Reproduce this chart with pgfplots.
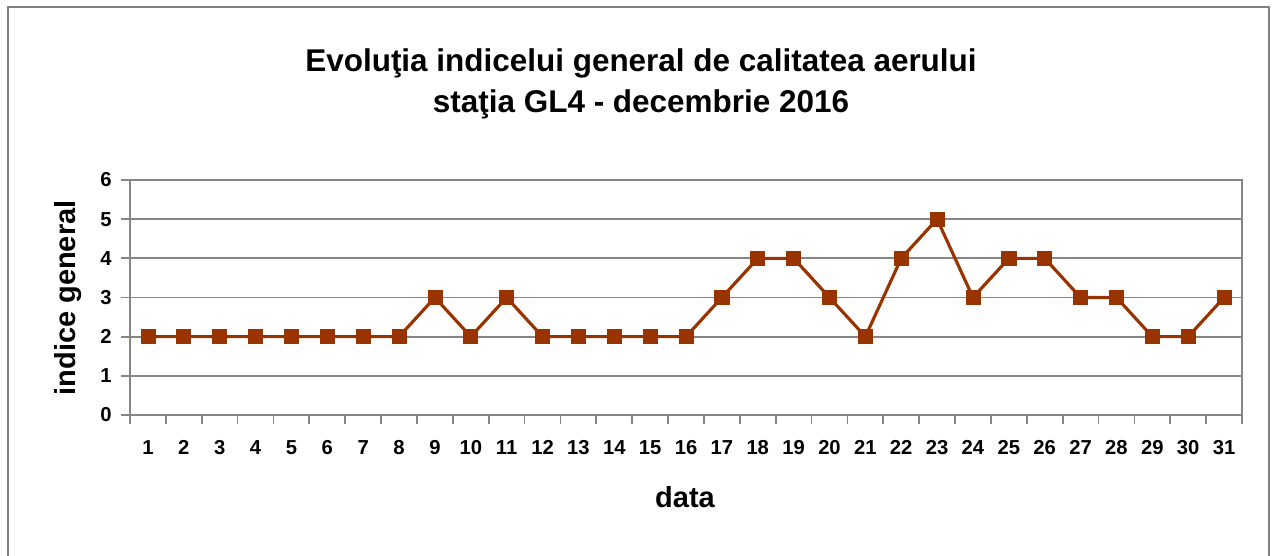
\documentclass[border=0pt]{standalone}
\usepackage{fontspec}
\setmainfont{Liberation Sans}
\usepackage{pgfplots}
\pgfplotsset{compat=1.18}
\definecolor{lineRed}{RGB}{153,51,0}
\definecolor{gridGray}{RGB}{134,134,134}
\definecolor{frameGray}{RGB}{128,128,128}

\begin{document}
\begin{tikzpicture}
% canvas 1272x556 reference pixels, 1 px = 0.02cm
\useasboundingbox (0,0) rectangle (25.44cm,11.12cm);
\draw[frameGray, line width=1.6pt] (0.16cm,-0.2cm) -- (0.16cm,10.98cm) -- (25.38cm,10.98cm) -- (25.38cm,-0.2cm);
\clip (0,0) rectangle (25.44cm,11.12cm);

\begin{axis}[
  at={(2.6cm,2.82cm)}, anchor=south west,
  scale only axis,
  width=22.24cm, height=4.7cm,
  xmin=0.5, xmax=31.5,
  ymin=0, ymax=6,
  xtick={1,...,31},
  minor xtick={0.5,1.5,...,31.5},
  ytick={0,1,...,6},
  major x tick style={draw=none},
  minor tick length=5pt,
  major tick length=5pt,
  tick align=outside,
  xtick pos=bottom, ytick pos=left,
  ymajorgrids,
  grid style={gridGray, line width=1pt},
  axis line style={gridGray, line width=1pt},
  every tick/.style={gridGray, line width=1pt},
  minor tick style={gridGray, line width=1pt},
  tick label style={font=\bfseries\fontsize{11.5}{13}\selectfont, text=black},
  /pgf/number format/assume math mode=true,
  xticklabel style={yshift=-6pt},
  yticklabel style={xshift=-2pt},
  clip=false,
]
\addplot[color=lineRed, line width=1.8pt, mark=square*, mark size=4pt,
  mark options={fill=lineRed, draw=lineRed, line width=0.4pt}] coordinates {
  (1,2)(2,2)(3,2)(4,2)(5,2)(6,2)(7,2)(8,2)(9,3)(10,2)
  (11,3)(12,2)(13,2)(14,2)(15,2)(16,2)(17,3)(18,4)(19,4)(20,3)
  (21,2)(22,4)(23,5)(24,3)(25,4)(26,4)(27,3)(28,3)(29,2)(30,2)
  (31,3)
};
\end{axis}

\node[font=\bfseries\fontsize{17.9}{21}\selectfont] at (12.82cm,9.86cm) {Evoluţia indicelui general de calitatea aerului};
\node[font=\bfseries\fontsize{17.9}{21}\selectfont] at (12.82cm,9.04cm) {staţia GL4 - decembrie 2016};
\node[font=\bfseries\fontsize{16.5}{19}\selectfont, rotate=90] at (1.36cm,5.16cm) {indice general};
\node[font=\bfseries\fontsize{16.5}{19}\selectfont] at (13.7cm,1.18cm) {data};
\end{tikzpicture}
\end{document}
